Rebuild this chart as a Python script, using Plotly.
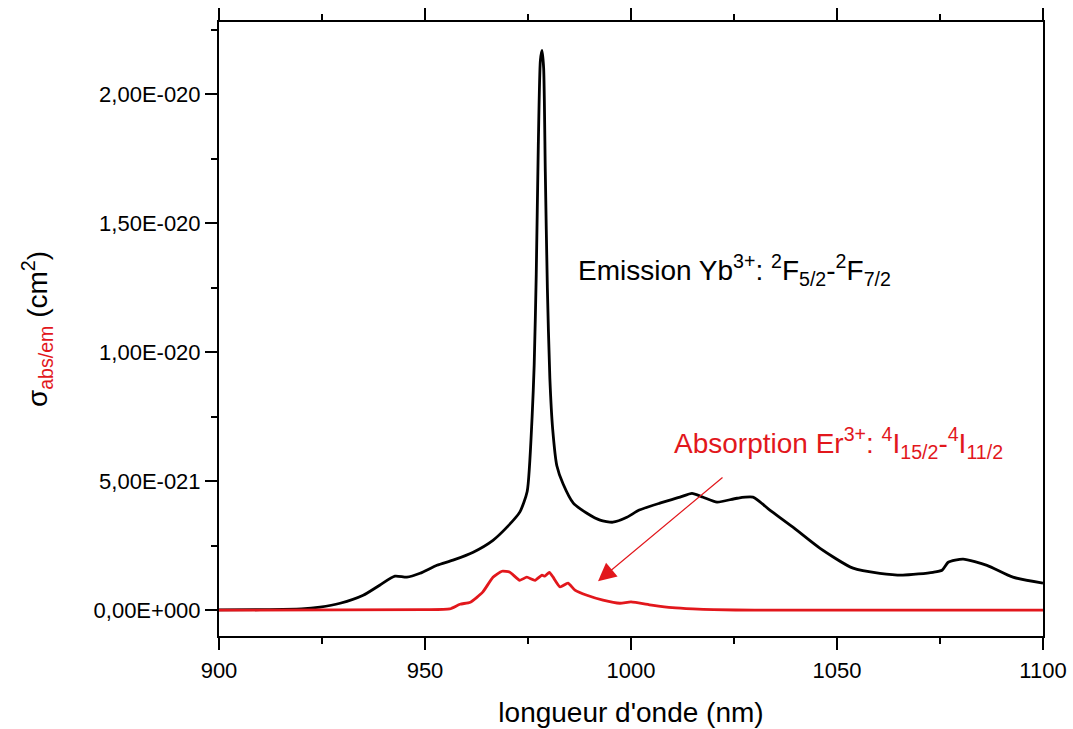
import plotly.graph_objects as go

# Emission Yb3+ (units of 1e-21 cm^2)
em_wl = [900, 910, 920, 924.5, 929.4, 935, 939, 942.7, 945.6, 948.8, 952.9, 956.8, 961.7,
         966.5, 969.9, 973, 974.8, 976, 976.5, 977, 977.5, 978, 978.4, 978.8, 979.2,
         979.7, 980.3, 981, 982, 983.5, 986, 989.3, 992.5, 995.6, 999, 1002, 1007,
         1011.9, 1014.8, 1017.5, 1020.9, 1025.7, 1029.6, 1033.7, 1039.3, 1045.9, 1053.9,
         1060.4, 1066, 1073.3, 1075.5, 1077, 1080.6, 1086.4, 1092.7, 1100]
em_val = [0.01, 0.02, 0.05, 0.12, 0.27, 0.58, 0.97, 1.32, 1.28, 1.43, 1.74, 1.94, 2.25,
          2.71, 3.22, 3.8, 4.6, 7.5, 9.5, 13.0, 18.0, 21.3, 21.7, 21.0, 17.0,
          12.5, 9.0, 7.0, 5.6, 4.9, 4.15, 3.76, 3.49, 3.41, 3.6, 3.88, 4.15,
          4.38, 4.53, 4.38, 4.19, 4.34, 4.38, 3.88, 3.22, 2.4, 1.63,
          1.43, 1.36, 1.47, 1.55, 1.86, 1.98, 1.74, 1.28, 1.05]

# Absorption Er3+ (units of 1e-21 cm^2)
ab_wl = [900, 950, 956, 958.5, 961, 964, 966.5, 968.7, 970.6, 973, 974.7, 976.7, 978.4,
         979.1, 980.2, 981.1, 982.8, 984.7, 986.4, 989.3, 993.2, 997.3, 1000, 1005,
         1010, 1015, 1020, 1030, 1100]
ab_val = [0.0, 0.02, 0.05, 0.23, 0.31, 0.7, 1.28, 1.51, 1.47, 1.16, 1.28, 1.16, 1.36,
          1.32, 1.47, 1.28, 0.9, 1.05, 0.78, 0.58, 0.39, 0.27, 0.32, 0.2,
          0.1, 0.05, 0.02, 0.0, 0.0]

SCALE = 1e-21
y_tickvals = [0, 5e-21, 1e-20, 1.5e-20, 2e-20]
y_ticktext = ["0,00E+000", "5,00E-021", "1,00E-020", "1,50E-020", "2,00E-020"]
x_tickvals = [900, 950, 1000, 1050, 1100]

RED = "#e2171c"
FONT = "Liberation Sans, Arial, sans-serif"

# pixel helpers for annotation placement (plot area 219..1043 x, y0 at 610, 25.8 px per 1e-21)
def px_x(px):
    return 900 + (px - 219) / 4.12

def px_y(py):
    return (610 - py) / 25.8 * SCALE

fig = go.Figure()
fig.add_trace(go.Scatter(x=em_wl, y=[v * SCALE for v in em_val], mode="lines",
                         line=dict(color="black", width=2.8, shape="spline", smoothing=0.6),
                         showlegend=False))
fig.add_trace(go.Scatter(x=ab_wl, y=[v * SCALE for v in ab_val], mode="lines",
                         line=dict(color=RED, width=2.8, shape="spline", smoothing=0.5),
                         showlegend=False))

fig.add_annotation(x=px_x(576), y=px_y(270), xref="x", yref="y",
                   text="Emission Yb<sup>3+</sup>: <sup>2</sup>F<sub>5/2</sub>-<sup>2</sup>F<sub>7/2</sub>",
                   showarrow=False, xanchor="left", yanchor="middle",
                   font=dict(family=FONT, size=28, color="black"))
fig.add_annotation(x=px_x(672), y=px_y(443), xref="x", yref="y",
                   text="Absorption Er<sup>3+</sup>: <sup>4</sup>I<sub>15/2</sub>-<sup>4</sup>I<sub>11/2</sub>",
                   showarrow=False, xanchor="left", yanchor="middle",
                   font=dict(family=FONT, size=28, color=RED))
# arrow
fig.add_annotation(x=px_x(598), y=px_y(581), ax=px_x(724), ay=px_y(476), xref="x", yref="y",
                   axref="x", ayref="y", text="", showarrow=True, arrowhead=2,
                   arrowsize=3, arrowwidth=1.2, arrowcolor=RED)

fig.update_layout(
    width=1073, height=729,
    margin=dict(l=219, r=30, t=22, b=93, autoexpand=False),
    paper_bgcolor="white", plot_bgcolor="white",
    font=dict(family=FONT, color="black"),
)
fig.update_xaxes(range=[900, 1100], tickvals=x_tickvals, ticks="outside", ticklen=12, tickwidth=2,
                 tickcolor="black", showline=True, linecolor="black", linewidth=2, mirror="ticks",
                 showgrid=False, zeroline=False, tickfont=dict(size=22), ticklabelstandoff=2,
                 automargin=False,
                 minor=dict(dtick=25, ticks="outside", ticklen=6, tickwidth=2, tickcolor="black", showgrid=False),
                 title=dict(text="longueur d'onde (nm)", font=dict(size=28), standoff=20))
fig.update_yaxes(range=[-1.0e-21, 2.28e-20], tickvals=y_tickvals, ticktext=y_ticktext,
                 ticks="outside", ticklen=12, tickwidth=2, tickcolor="black",
                 showline=True, linecolor="black", linewidth=2, mirror=True,
                 showgrid=False, zeroline=False, tickfont=dict(size=22), automargin=False,
                 minor=dict(tickvals=[2.5e-21, 7.5e-21, 1.25e-20, 1.75e-20, 2.25e-20],
                            ticks="outside", ticklen=6, tickwidth=2, tickcolor="black", showgrid=False),
                 title=dict(text="σ<sub><span style='color:" + RED + "'>abs/em</span></sub> (cm<sup>2</sup>)",
                            font=dict(size=28), standoff=38))

fig.write_html("out.html", config={"displayModeBar": False},
               post_script="document.body.style.margin='0';document.body.style.padding='0';")
